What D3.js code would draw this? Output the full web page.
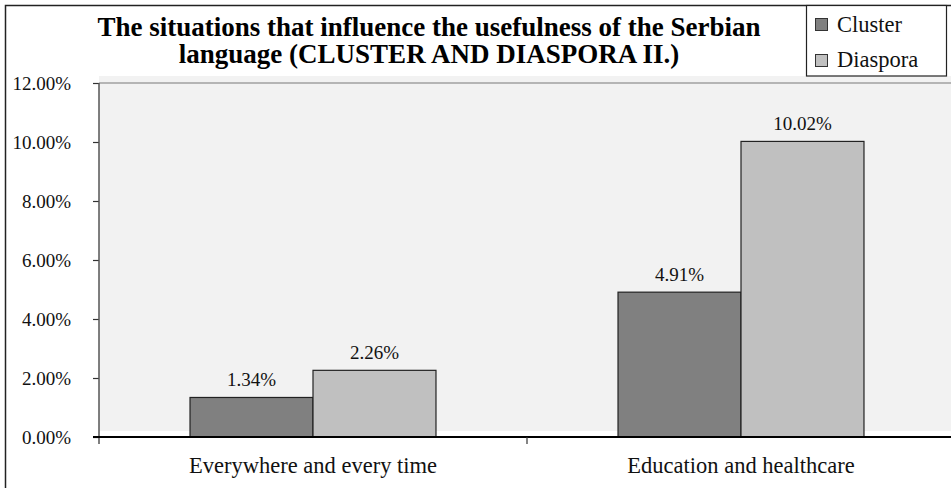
<!DOCTYPE html>
<html>
<head>
<meta charset="utf-8">
<script src="https://cdn.jsdelivr.net/npm/d3@7"></script>
<style>
  html, body { margin: 0; padding: 0; background: #fff; }
  svg { display: block; font-family: "Liberation Serif", "Times New Roman", serif; }
</style>
</head>
<body>
<svg id="chart" width="951" height="488"></svg>
<script>
const titleLines = ["The situations that influence the usefulness of the Serbian", "language (CLUSTER AND DIASPORA II.)"];
const categories = ["Everywhere and every time", "Education and healthcare"];
const seriesNames = ["Cluster", "Diaspora"];
const clusterValues = [1.34, 4.91];
const diasporaValues = [2.26, 10.02];
const yTicks = [0, 2, 4, 6, 8, 10, 12];
const colors = ["#808080", "#c0c0c0"];

const svg = d3.select("#chart");
const W = 951, H = 488;
const x0 = 99, x1 = 955, y0 = 437, y1 = 83;

const x = d3.scaleBand().domain(categories).range([x0, x1]).padding(0);
const xs = d3.scaleBand().domain(seriesNames).range([0, x.bandwidth()]).paddingInner(0).paddingOuter(0.74);
const y = d3.scaleLinear().domain([0, 12]).range([y0, y1]);

// outer border
svg.append("rect").attr("x", 5.5).attr("y", 5.5).attr("width", 1000).attr("height", 1000)
  .attr("fill", "none").attr("stroke", "#222").attr("stroke-width", 1.5);

// plot background (offset)
svg.append("rect").attr("x", x0).attr("y", y(12) - 7).attr("width", W - x0).attr("height", y(0) - y(12) + 1)
  .attr("fill", "#f2f2f2");
// top line
svg.append("line").attr("x1", x0).attr("x2", W).attr("y1", y(12)).attr("y2", y(12))
  .attr("stroke", "#a0a0a0").attr("stroke-width", 1.5);

// bars
const data = [];
categories.forEach((c, i) => {
  data.push({ cat: c, s: seriesNames[0], v: clusterValues[i], col: colors[0] });
  data.push({ cat: c, s: seriesNames[1], v: diasporaValues[i], col: colors[1] });
});
svg.append("g").selectAll("rect").data(data).join("rect")
  .attr("x", d => x(d.cat) + xs(d.s))
  .attr("y", d => y(d.v))
  .attr("width", xs.bandwidth())
  .attr("height", d => y(0) - y(d.v))
  .attr("fill", d => d.col)
  .attr("stroke", "#222").attr("stroke-width", 1.2);

// data labels
svg.append("g").selectAll("text").data(data).join("text")
  .attr("x", d => x(d.cat) + xs(d.s) + xs.bandwidth() / 2)
  .attr("y", d => y(d.v) - 11)
  .attr("text-anchor", "middle")
  .attr("font-size", 19).attr("fill", "#111")
  .text(d => d.v.toFixed(2) + "%");

// y axis
const yAxis = d3.axisLeft(y).tickValues(yTicks).tickSize(6).tickPadding(22)
  .tickFormat(d => d.toFixed(2) + "%");
const gy = svg.append("g").attr("transform", `translate(${x0},0)`).call(yAxis);
gy.select(".domain").remove();
gy.selectAll(".tick line").attr("stroke", "#333").attr("stroke-width", 1.2);
gy.selectAll(".tick text").attr("font-size", 19).attr("fill", "#111")
  .attr("font-family", "Liberation Serif, Times New Roman, serif").attr("dy", "0.34em");
svg.append("line").attr("x1", x0).attr("x2", x0).attr("y1", y(12)).attr("y2", y(0) + 7)
  .attr("stroke", "#555").attr("stroke-width", 1.5);

// x axis
svg.append("line").attr("x1", 93).attr("x2", W).attr("y1", y(0)).attr("y2", y(0))
  .attr("stroke", "#000").attr("stroke-width", 2);
const xAxis = d3.axisBottom(x).tickSize(0).tickPadding(33);
const gx = svg.append("g").attr("transform", `translate(0,${y(0)})`).call(xAxis);
gx.select(".domain").remove();
gx.selectAll(".tick text").attr("font-size", 22.5).attr("fill", "#111")
  .attr("font-family", "Liberation Serif, Times New Roman, serif").attr("dy", "0.15em");
// category separators
svg.append("g").selectAll("line").data(categories.slice(1)).join("line")
  .attr("x1", d => x(d)).attr("x2", d => x(d))
  .attr("y1", y(0)).attr("y2", y(0) + 7)
  .attr("stroke", "#333").attr("stroke-width", 1.2);

// title
svg.append("g").selectAll("text").data(titleLines).join("text")
  .attr("x", 429).attr("y", (d, i) => 36 + i * 27)
  .attr("text-anchor", "middle").attr("font-size", 27).attr("font-weight", "bold")
  .attr("fill", "#000").text(d => d);

// legend
const lg = svg.append("g");
lg.append("rect").attr("x", 806.5).attr("y", 5.5).attr("width", 140).attr("height", 70.5)
  .attr("fill", "#fff").attr("stroke", "#222").attr("stroke-width", 1.2);
seriesNames.forEach((s, i) => {
  lg.append("rect").attr("x", 815.5).attr("y", 18.5 + i * 36).attr("width", 12).attr("height", 12)
    .attr("fill", colors[i]).attr("stroke", "#333").attr("stroke-width", 1);
  lg.append("text").attr("x", 837).attr("y", 32 + i * 35).attr("font-size", 22.5)
    .attr("fill", "#111").text(s);
});
</script>
</body>
</html>
